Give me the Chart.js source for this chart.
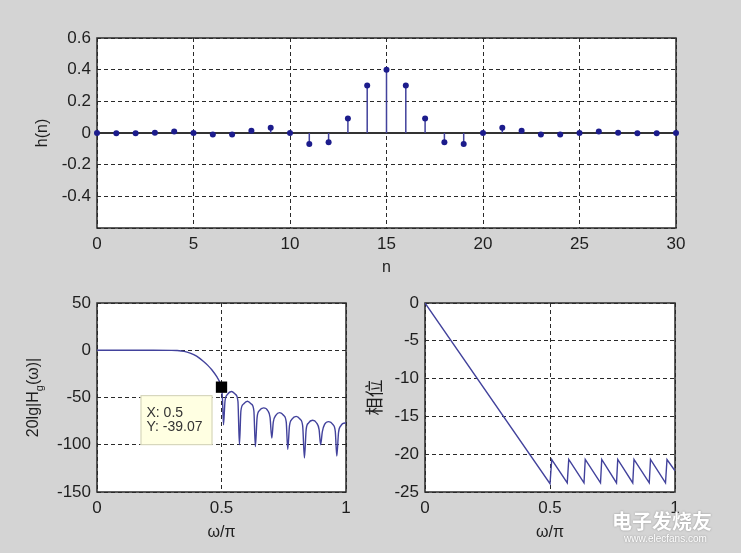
<!DOCTYPE html>
<html>
<head>
<meta charset="utf-8">
<script src="https://cdn.jsdelivr.net/npm/chart.js@4.4.0/dist/chart.umd.min.js"></script>
<style>
  html, body { margin: 0; padding: 0; background: #d4d4d4; }
  #wrap { position: relative; width: 741px; height: 553px; overflow: hidden; background: #d4d4d4; }
  #wrap canvas { position: absolute; }
  .wm { position: absolute; color: #fff; text-shadow: 0 0 2px #8a8a8a; white-space: nowrap; }
</style>
</head>
<body>
<div id="wrap">
  <canvas id="stemChart" width="741" height="290" style="left:0px;top:0px"></canvas>
  <canvas id="magChart" width="380" height="273" style="left:0px;top:280px"></canvas>
  <canvas id="phaseChart" width="401" height="273" style="left:340px;top:280px"></canvas>
  <div class="wm" style="left:612px;top:506px;font:bold 20px 'Noto Sans CJK SC', sans-serif;">电子发烧友</div>
  <div class="wm" style="left:624px;top:533px;font:10px 'Liberation Sans', Arial, sans-serif;">www.elecfans.com</div>
</div>
<script>
// impulse response h(n)
const nVals = [0, 1, 2, 3, 4, 5, 6, 7, 8, 9, 10, 11, 12, 13, 14, 15, 16, 17, 18, 19, 20, 21, 22, 23, 24, 25, 26, 27, 28, 29, 30];
const hVals = [0, -0.002, -0.001, 0.002, 0.01, 0, -0.01, -0.01, 0.015, 0.033, 0, -0.069, -0.058, 0.092, 0.3, 0.4,
               0.3, 0.092, -0.058, -0.069, 0, 0.033, 0.015, -0.01, -0.01, 0, 0.01, 0.002, -0.001, -0.002, 0];

// magnitude response, 20lg|Hg(w)| in dB vs w/pi
const magW = [0, 0.1, 0.2, 0.3, 0.32, 0.35, 0.374, 0.4, 0.428, 0.445, 0.461, 0.481, 0.492, 0.5, 0.504, 0.508,
              0.514, 0.524, 0.54, 0.556, 0.566, 0.572,
              0.578, 0.588, 0.604, 0.62, 0.63, 0.636,
              0.643, 0.652, 0.669, 0.686, 0.695, 0.702,
              0.708, 0.718, 0.734, 0.75, 0.76, 0.766,
              0.773, 0.783, 0.8, 0.816, 0.826, 0.833,
              0.84, 0.849, 0.866, 0.882, 0.892, 0.898,
              0.905, 0.914, 0.931, 0.947, 0.957, 0.963,
              0.97, 0.979, 0.996, 1];
const magDb = [0, 0, 0, -0.1, -0.3, -1.2, -3, -6.2, -11.9, -16, -20.7, -28, -33, -39.07, -52, -79,
               -54, -46.7, -43.7, -46.7, -54, -100,
               -64, -57, -54, -57, -64, -102,
               -71, -64, -61, -64, -71, -93,
               -76, -69, -66, -69, -76, -105,
               -80, -73, -70, -73, -80, -114,
               -84, -77, -74, -77, -84, -100,
               -86, -78.5, -75.5, -78.5, -86, -112,
               -87, -80, -77, -77.3];

// phase vs w/pi
const phW    = [0, 0.5, 0.507, 0.569, 0.575, 0.636, 0.641, 0.702, 0.707, 0.766, 0.771, 0.831, 0.836, 0.897, 0.902, 0.962, 0.968, 1];
const phVals = [0, -23.9, -20.7, -23.8, -20.7, -23.8, -20.7, -23.8, -20.7, -23.8, -20.7, -23.8, -20.7, -23.8, -20.7, -23.8, -20.7, -22.2];

// data tip
const tipX = 0.5;
const tipY = -39.07;

const FONT = '"Liberation Sans", Arial, sans-serif';
const lineBlue = '#42429c';
const dotBlue = '#1c1c8c';
const gridColor = '#2a2a2a';

// white axes box with a full frame
const frame = {
  id: 'frame',
  beforeDraw(chart) {
    const a = chart.chartArea, ctx = chart.ctx;
    ctx.save();
    ctx.fillStyle = '#fff';
    ctx.fillRect(a.left, a.top, a.right - a.left, a.bottom - a.top);
    ctx.restore();
  },
  beforeDatasetsDraw(chart) {
    const a = chart.chartArea, ctx = chart.ctx;
    ctx.save();
    ctx.strokeStyle = '#2a2a2a';
    ctx.lineWidth = 1.5;
    ctx.strokeRect(a.left, a.top, a.right - a.left, a.bottom - a.top);
    ctx.restore();
  }
};

function makeScale(o) {
  return {
    type: 'linear',
    min: o.min,
    max: o.max,
    border: { display: false, dash: [4, 3] },
    grid: { color: gridColor, lineWidth: 1, drawTicks: false },
    ticks: {
      stepSize: o.step, autoSkip: false, maxRotation: 0, padding: 6,
      color: '#1e1e1e', font: { family: FONT, size: 17 },
      callback: o.fmt || (v => String(v))
    },
    title: o.title || { display: false },
    afterFit(scale) {
      if (o.w) scale.width = o.w;
      if (o.h) scale.height = o.h;
    }
  };
}

const baseOpts = {
  responsive: false,
  animation: false,
  devicePixelRatio: 1,
  plugins: { legend: { display: false }, tooltip: { enabled: false } },
  events: []
};

// ---- top: stem plot ----
const stemPts = [];
nVals.forEach((n, i) => {
  stemPts.push({ x: n, y: 0 }, { x: n, y: hVals[i] }, { x: n, y: null });
});

new Chart(document.getElementById('stemChart'), {
  type: 'scatter',
  data: {
    datasets: [
      {
        data: nVals.map((n, i) => ({ x: n, y: hVals[i] })),
        showLine: false, pointRadius: 3, pointStyle: 'circle',
        backgroundColor: dotBlue, borderColor: dotBlue, borderWidth: 0,
        clip: false, order: 0
      },
      {
        data: stemPts, showLine: true, spanGaps: false, pointRadius: 0,
        borderColor: lineBlue, borderWidth: 1.5, order: 1
      },
      {
        data: [{ x: nVals[0], y: 0 }, { x: nVals[nVals.length - 1], y: 0 }],
        showLine: true, pointRadius: 0, borderColor: '#333', borderWidth: 2, order: 2
      }
    ]
  },
  options: Object.assign({}, baseOpts, {
    layout: { padding: { left: 0, top: 38, right: 65, bottom: 12 } },
    scales: {
      x: makeScale({
        min: 0, max: 30, step: 5, h: 50,
        title: { display: true, text: 'n', color: '#1e1e1e', font: { family: FONT, size: 16 }, padding: { top: 0, bottom: 1 } }
      }),
      y: makeScale({
        min: -0.6, max: 0.6, step: 0.2, w: 97,
        fmt: v => (Math.abs(v + 0.6) < 1e-6 ? '' : String(Math.round(v * 10) / 10)),
        title: { display: true, text: 'h(n)', color: '#1e1e1e', font: { family: FONT, size: 16 }, padding: { top: 33, bottom: 0 } }
      })
    }
  }),
  plugins: [frame]
});

// ---- bottom left: magnitude ----
const magLabel = {
  id: 'magLabel',
  afterDraw(chart) {
    const a = chart.chartArea, ctx = chart.ctx;
    const cy = (a.top + a.bottom) / 2;
    const big = '16px ' + FONT, small = '11px ' + FONT;
    ctx.save();
    ctx.fillStyle = '#1e1e1e';
    ctx.textBaseline = 'middle';
    ctx.font = big;
    const w1 = ctx.measureText('20lg|H').width;
    const w3 = ctx.measureText('(ω)|').width;
    ctx.font = small;
    const w2 = ctx.measureText('g').width;
    const total = w1 + w2 + w3;
    ctx.translate(34, cy);
    ctx.rotate(-Math.PI / 2);
    let x = -total / 2;
    ctx.font = big;
    ctx.fillText('20lg|H', x, 0);
    x += w1;
    ctx.font = small;
    ctx.fillText('g', x, 6);
    x += w2;
    ctx.font = big;
    ctx.fillText('(ω)|', x, 0);
    ctx.restore();
  }
};

const dataTip = {
  id: 'dataTip',
  afterDatasetsDraw(chart) {
    const ctx = chart.ctx;
    const px = chart.scales.x.getPixelForValue(tipX);
    const py = chart.scales.y.getPixelForValue(tipY);
    const bx = px - 81, by = py + 8, bw = 72, bh = 50;
    ctx.save();
    ctx.fillStyle = '#ffffe2';
    ctx.fillRect(bx, by, bw, bh);
    ctx.strokeStyle = '#cfcfb6';
    ctx.lineWidth = 1;
    ctx.strokeRect(bx + 0.5, by + 0.5, bw - 1, bh - 1);
    ctx.fillStyle = '#333';
    ctx.font = '14px ' + FONT;
    ctx.textBaseline = 'middle';
    ctx.fillText('X: ' + tipX, bx + 6, by + 18);
    ctx.fillText('Y: ' + tipY.toFixed(2), bx + 6, by + 32);
    ctx.restore();
  }
};

new Chart(document.getElementById('magChart'), {
  type: 'scatter',
  data: {
    datasets: [
      {
        data: [{ x: tipX, y: tipY }], showLine: false, pointStyle: 'rect', pointRadius: 8,
        backgroundColor: '#000', borderColor: '#000', borderWidth: 0, order: 0
      },
      {
        data: magW.map((w, i) => ({ x: w, y: magDb[i] })),
        showLine: true, pointRadius: 0, borderColor: lineBlue, borderWidth: 1.4,
        cubicInterpolationMode: 'monotone', order: 1
      }
    ]
  },
  options: Object.assign({}, baseOpts, {
    layout: { padding: { left: 0, top: 23, right: 34, bottom: 11 } },
    scales: {
      x: makeScale({
        min: 0, max: 1, step: 0.5, h: 50,
        title: { display: true, text: 'ω/π', color: '#1e1e1e', font: { family: FONT, size: 16 }, padding: { top: 0, bottom: 0 } }
      }),
      y: makeScale({ min: -150, max: 50, step: 50, w: 97 })
    }
  }),
  plugins: [frame, magLabel, dataTip]
});

// ---- bottom right: phase ----
new Chart(document.getElementById('phaseChart'), {
  type: 'scatter',
  data: {
    datasets: [
      {
        data: phW.map((w, i) => ({ x: w, y: phVals[i] })),
        showLine: true, pointRadius: 0, borderColor: lineBlue, borderWidth: 1.4, tension: 0
      }
    ]
  },
  options: Object.assign({}, baseOpts, {
    layout: { padding: { left: 0, top: 23, right: 66, bottom: 11 } },
    scales: {
      x: makeScale({
        min: 0, max: 1, step: 0.5, h: 50,
        title: { display: true, text: 'ω/π', color: '#1e1e1e', font: { family: FONT, size: 16 }, padding: { top: 0, bottom: 0 } }
      }),
      y: makeScale({
        min: -25, max: 0, step: 5, w: 85,
        title: { display: true, text: '相位', color: '#1e1e1e', font: { family: '"Noto Sans CJK SC", sans-serif', size: 18 }, padding: { top: 23, bottom: 0 } }
      })
    }
  }),
  plugins: [frame]
});
</script>
</body>
</html>
